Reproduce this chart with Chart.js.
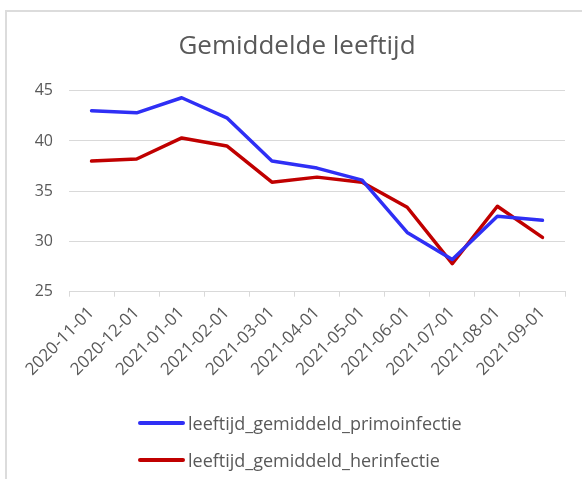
<!DOCTYPE html>
<html>
<head>
<meta charset="utf-8">
<script src="https://cdn.jsdelivr.net/npm/chart.js@4/dist/chart.umd.min.js"></script>
<style>
  html, body { margin: 0; padding: 0; background: #fff; }
  #wrap { position: relative; width: 582px; height: 479px; overflow: hidden; }
  #frame { position: absolute; left: 5px; top: 10px; width: 600px; height: 500px; border-left: 2px solid #dcdcdc; border-top: 2px solid #dcdcdc; box-sizing: border-box; }
  #c { position: absolute; left: 0; top: 0; }
  #legend { position: absolute; left: 138px; top: 404px; font-family: "Open Sans", sans-serif; font-size: 18px; color: #595959; }
  .item { display: flex; align-items: center; height: 37px; }
  .swatch { width: 47px; height: 4px; border-radius: 2px; margin-right: 3px; }
</style>
</head>
<body>
<div id="wrap">
  <div id="frame"></div>
  <canvas id="c" width="582" height="479"></canvas>
  <div id="legend"></div>
</div>
<script>
const categories = ["2020-11-01","2020-12-01","2021-01-01","2021-02-01","2021-03-01","2021-04-01","2021-05-01","2021-06-01","2021-07-01","2021-08-01","2021-09-01"];
const primoinfectie = [43.0, 42.8, 44.3, 42.3, 38.0, 37.3, 36.1, 30.9, 28.2, 32.5, 32.1];
const herinfectie = [38.0, 38.2, 40.3, 39.5, 35.9, 36.4, 35.9, 33.4, 27.8, 33.5, 30.4];
const seriesNames = ["leeftijd_gemiddeld_primoinfectie", "leeftijd_gemiddeld_herinfectie"];
const seriesColors = ["#2f2ff5", "#c00000"];
const yTicks = [25, 30, 35, 40, 45];

const gray = "#595959";
const FONT = "'Open Sans', sans-serif";

const chart = new Chart(document.getElementById("c"), {
  type: "line",
  data: {
    labels: categories,
    datasets: [
      { label: seriesNames[0], data: primoinfectie, borderColor: seriesColors[0], backgroundColor: seriesColors[0] },
      { label: seriesNames[1], data: herinfectie, borderColor: seriesColors[1], backgroundColor: seriesColors[1] }
    ]
  },
  options: {
    responsive: false,
    animation: false,
    devicePixelRatio: 1,
    layout: { padding: { left: 29, right: 17, top: 0, bottom: 0 } },
    elements: {
      line: { borderWidth: 3.5, tension: 0, borderJoinStyle: "round", borderCapStyle: "round" },
      point: { radius: 0, hoverRadius: 0 }
    },
    plugins: {
      legend: { display: false },
      tooltip: { enabled: false },
      title: {
        display: true,
        text: "Gemiddelde leeftijd",
        color: gray,
        font: { family: FONT, size: 26, weight: "normal", lineHeight: 1.2 },
        padding: { top: 30.9, bottom: 28.6 }
      }
    },
    scales: {
      x: {
        offset: true,
        grid: { display: true, drawOnChartArea: false, drawTicks: true, tickLength: 5, offset: true, color: "#d9d9d9" },
        border: { display: true, color: "#d9d9d9", width: 1 },
        ticks: { color: gray, font: { family: FONT, size: 17 }, maxRotation: 45, minRotation: 45, autoSkip: false, padding: 6 },
        afterFit: (s) => { s.height = 479 - 291.7; }
      },
      y: {
        min: 25, max: 45,
        afterBuildTicks: (s) => { s.ticks = yTicks.map(v => ({ value: v })); },
        grid: { color: "#d9d9d9", drawTicks: false, lineWidth: 1 },
        border: { display: false },
        ticks: { color: gray, font: { family: FONT, size: 16 }, padding: 16 },
        afterFit: (s) => { s.width = 40; }
      }
    }
  }
});

const leg = document.getElementById("legend");
seriesNames.forEach((n, i) => {
  const d = document.createElement("div");
  d.className = "item";
  const sw = document.createElement("span");
  sw.className = "swatch";
  sw.style.background = seriesColors[i];
  const t = document.createElement("span");
  t.textContent = n;
  d.appendChild(sw); d.appendChild(t);
  leg.appendChild(d);
});
</script>
</body>
</html>
